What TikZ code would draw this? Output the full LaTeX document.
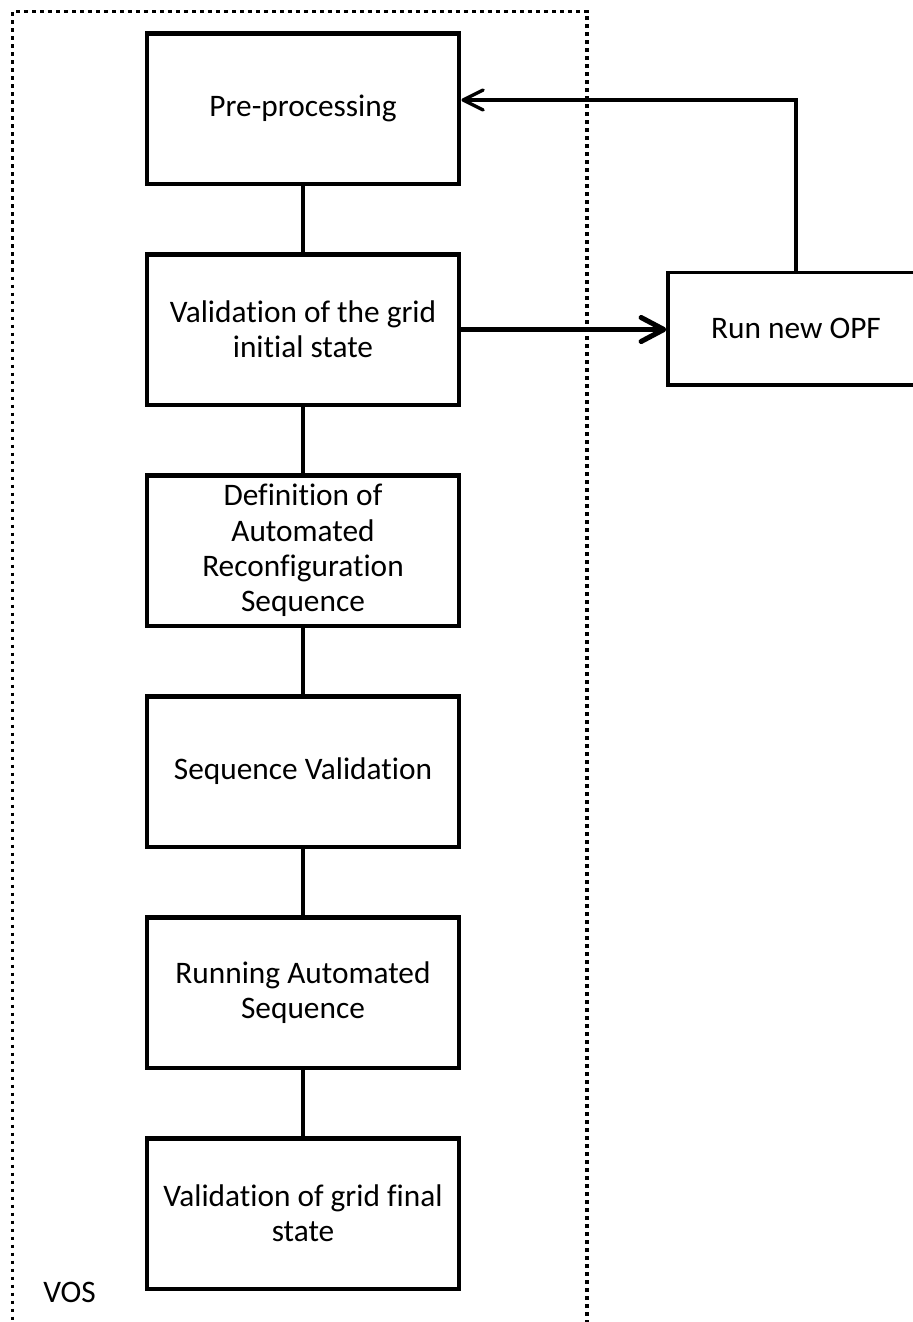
\documentclass[tikz,border=0pt]{standalone}
\usepackage{fontspec}
\setmainfont{Carlito}[Ligatures=NoCommon]
\usetikzlibrary{arrows.meta}

\begin{document}
\begin{tikzpicture}[x=0.75pt, y=-0.75pt,
    stepbox/.style={draw, line width=3.4pt, minimum width=234.3pt,
      minimum height=112.9pt, inner sep=0pt, align=center,
      font=\fontsize{23.5}{26.5}\selectfont},
    sidebox/.style={draw, line width=2.5pt, minimum width=192pt,
      minimum height=84.4pt, inner sep=0pt, align=center,
      font=\fontsize{23.5}{26.5}\selectfont},
    link/.style={line width=3.5pt},
    feedback/.style={line width=2.5pt, line join=miter,
      -{Straight Barb[length=15pt, width=15pt, line cap=round, line join=round]}},
    forward/.style={line width=3.8pt,
      -{Straight Barb[length=17pt, width=18pt, line cap=round, line join=round]}},
    frame/.style={line width=2.8pt, dash pattern=on 2.7pt off 3.3pt}]

  \useasboundingbox (0,0) rectangle (913,1322);

  % VOS group frame (open at the bottom)
  \draw[frame] (587,1340) -- (587,11.5) -- (12.5,11.5) -- (12.5,1340);

  % main sequence of steps
  \node[stepbox] (pre)    at (303,108.5)  {Pre-processing};
  \node[stepbox] (valid)  at (303,329.5)  {Validation of the grid\\initial state};
  \node[stepbox] (defin)  at (303,550.5)  {Definition of\\Automated\\Reconfiguration\\Sequence};
  \node[stepbox] (seqval) at (303,771.5)  {Sequence Validation};
  \node[stepbox] (run)    at (303,992.5)  {Running Automated\\Sequence};
  \node[stepbox] (final)  at (303,1213.5) {Validation of grid final\\state};

  % side step
  \node[sidebox] (opf) at (796,328.75) {Run new OPF};

  % group label
  \node[anchor=base west, inner sep=0pt,
        font=\fontsize{23.5}{26.5}\selectfont] (vos) at (43,1302) {VOS};

  % links between steps
  \draw[link] (pre.south)    -- (valid.north);
  \draw[link] (valid.south)  -- (defin.north);
  \draw[link] (defin.south)  -- (seqval.north);
  \draw[link] (seqval.south) -- (run.north);
  \draw[link] (run.south)    -- (final.north);

  % branch to the OPF run and back
  \draw[forward] (valid.east) -- (valid.east -| opf.west);
  \coordinate (fb) at (796,100);
  \draw[feedback] (opf.north) -- (fb) -- (fb -| pre.east);
\end{tikzpicture}
\end{document}
